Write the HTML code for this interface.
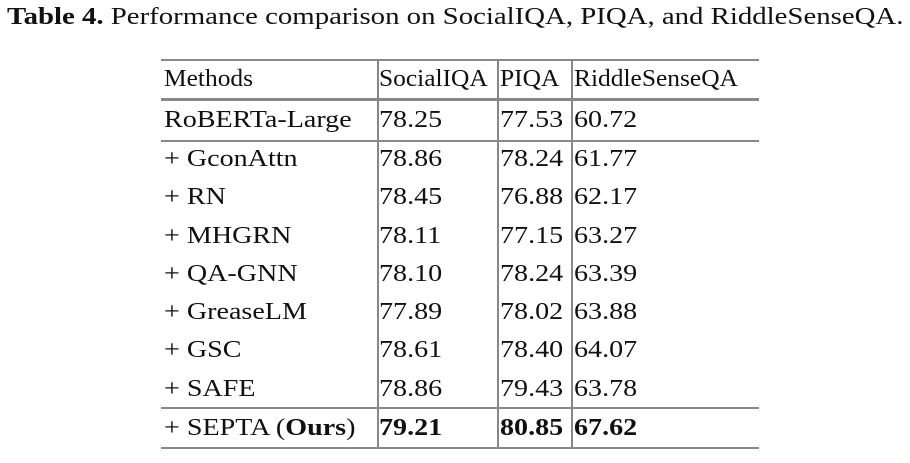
<!DOCTYPE html>
<html><head><style>
body{margin:0;width:910px;height:463px;background:#fff;font-family:"Liberation Serif",serif;color:#111;position:relative;overflow:hidden}
.t{position:absolute;white-space:nowrap;font-size:24px;line-height:1;transform:scaleX(1.17);transform-origin:0 50%}
.h{position:absolute;background:#888}
.v{position:absolute;background:#888;width:1.5px;top:59px;height:389px}
b{font-weight:bold}
</style></head><body>
<div class="t" style="left:7px;top:5px;transform:scaleX(1.2)"><b>Table 4.</b> Performance comparison on SocialIQA, PIQA, and RiddleSenseQA.</div>
<div class="h" style="left:161px;width:598px;top:59px;height:1.5px"></div>
<div class="h" style="left:161px;width:598px;top:98px;height:3px"></div>
<div class="h" style="left:161px;width:598px;top:140px;height:1.5px"></div>
<div class="h" style="left:161px;width:598px;top:407px;height:1.5px"></div>
<div class="h" style="left:161px;width:598px;top:447px;height:1.5px"></div>
<div class="v" style="left:377px"></div>
<div class="v" style="left:497px"></div>
<div class="v" style="left:571px"></div>
<div id="rows"></div>
<script>
var d=[["Methods","SocialIQA","PIQA","RiddleSenseQA",79],
["RoBERTa-Large","78.25","77.53","60.72",120],
["+&nbsp;GconAttn","78.86","78.24","61.77",159],
["+&nbsp;RN","78.45","76.88","62.17",197],
["+&nbsp;MHGRN","78.11","77.15","63.27",236],
["+&nbsp;QA-GNN","78.10","78.24","63.39",274],
["+&nbsp;GreaseLM","77.89","78.02","63.88",312],
["+&nbsp;GSC","78.61","78.40","64.07",350],
["+&nbsp;SAFE","78.86","79.43","63.78",389],
["+&nbsp;SEPTA (<b>Ours</b>)","<b>79.21</b>","<b>80.85</b>","<b>67.62</b>",428]];
var xs=[164,379,500,574],h="";
d.forEach(function(r,k){for(var i=0;i<4;i++){var s=k==0?'transform:scaleX(1.06);':'';h+='<div class="t" style="'+s+'left:'+xs[i]+'px;top:'+(r[4]-12)+'px">'+r[i]+'</div>';}});
document.getElementById("rows").innerHTML=h;
</script>
</body></html>
